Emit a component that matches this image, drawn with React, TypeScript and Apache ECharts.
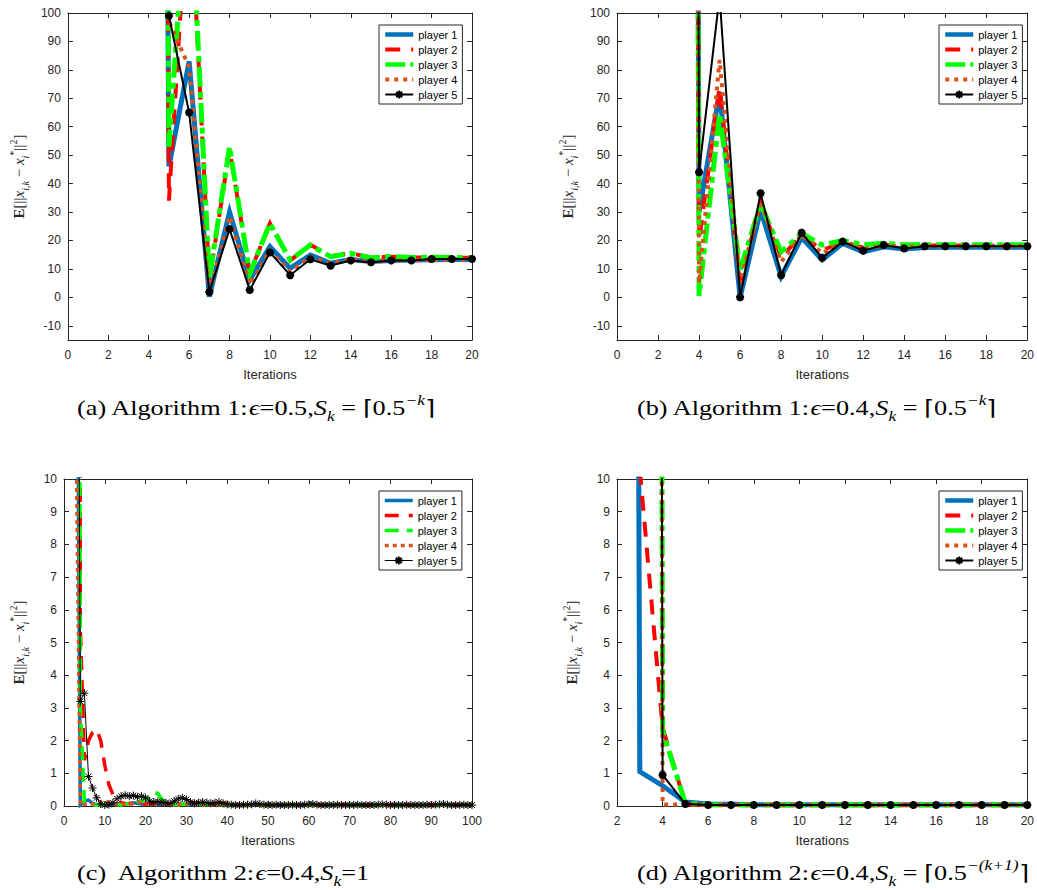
import React, { useEffect, useRef } from "react";
import * as echarts from "echarts";

const PLAYER_NAMES = ["player 1", "player 2", "player 3", "player 4", "player 5"];

// ---------- Panel (a): Algorithm 1, eps=0.5 (iterations 1..20)
const A_P1 = [9200, 6100, 3400, 1100, 46, 83, 0.2, 30, 6.1, 17.8, 10.2, 14.9, 12.0, 13.3, 12.6, 13.0, 13.1, 13.2, 13.3, 13.3];
const A_P2 = [9800, 6900, 3900, 1500, 34, 150, 6, 52, 8.5, 26, 13, 18.5, 14.5, 15.5, 14, 14.3, 14, 14, 14, 13.9];
const A_P3 = [9600, 6700, 3800, 1400, 53, 155, 6.7, 53, 8.4, 26, 13.1, 18.4, 14.3, 15.5, 13.9, 14.4, 14, 14.1, 14, 13.9];
const A_P4 = [9000, 6000, 3300, 1000, 97, 81, 1, 28.5, 4.5, 16.5, 9, 14.2, 12, 13.2, 12.5, 13, 13, 13.2, 13.2, 13.3];
const A_P5 = [9400, 6300, 3500, 1200, 99, 65, 1.9, 24, 2.6, 15.8, 7.8, 13.4, 11.1, 13.0, 12.3, 13.0, 13.0, 13.5, 13.5, 13.5];

// ---------- Panel (b): Algorithm 1, eps=0.4 (iterations 1..20)
const B_P1 = [9000, 5000, 2000, 30, 72, 0, 30.7, 7.3, 21, 13.2, 19, 16, 17.8, 17, 17.5, 17.6, 17.6, 17.6, 17.6, 17.6];
const B_P2 = [9500, 5500, 2200, 20, 74, 5, 33, 14, 22, 16.5, 19.5, 17.5, 18.5, 18, 18.2, 18.2, 18.2, 18.2, 18.2, 18.2];
const B_P3 = [9300, 5300, 2100, 0.5, 64.5, 9.6, 33, 16, 22.5, 18.4, 20, 18.5, 19, 18.5, 18.5, 18.5, 18.5, 18.5, 18.5, 18.5];
const B_P4 = [9100, 5100, 2050, 5, 83.5, 5, 34, 12.5, 22, 15.5, 19.5, 17, 18.3, 17.8, 18, 18, 18, 18, 18, 18];
const B_P5 = [9700, 5700, 2300, 44, 106, 0, 36.6, 7.8, 22.7, 13.9, 19.6, 16.4, 18.4, 17.2, 18, 18, 18, 18, 18, 18];

// ---------- Panel (c): Algorithm 2, eps=0.4, S_k=1 (iterations 1..100)
const C_P1 = [
  900, 200, 20, 0.03, 0.15, 0.18, 0.08, 0.04, 0.03, 0.03,
  0.04, 0.05, 0.06, 0.05, 0.06, 0.08, 0.1, 0.08, 0.06, 0.05,
  0.04, 0.05, 0.06, 0.05, 0.04, 0.04, 0.05, 0.06, 0.05, 0.04,
  0.04, 0.04, 0.05, 0.05, 0.04, 0.04, 0.04, 0.05, 0.04, 0.04,
  0.03, 0.03, 0.04, 0.03, 0.03, 0.03, 0.04, 0.04, 0.03, 0.03,
  0.03, 0.03, 0.03, 0.04, 0.03, 0.03, 0.03, 0.03, 0.04, 0.04,
  0.05, 0.04, 0.03, 0.03, 0.03, 0.03, 0.03, 0.04, 0.03, 0.03,
  0.03, 0.03, 0.03, 0.03, 0.04, 0.03, 0.03, 0.03, 0.03, 0.03,
  0.03, 0.03, 0.04, 0.03, 0.03, 0.03, 0.03, 0.03, 0.03, 0.04,
  0.03, 0.03, 0.03, 0.03, 0.03, 0.03, 0.04, 0.03, 0.03, 0.03,
];
const C_P2 = [
  900, 300, 150, 5.5, 1.4, 2.0, 2.25, 2.35, 2.0, 1.25,
  0.65, 0.35, 0.18, 0.1, 0.08, 0.07, 0.06, 0.05, 0.04, 0.05,
  0.06, 0.08, 0.1, 0.09, 0.07, 0.05, 0.04, 0.05, 0.07, 0.1,
  0.12, 0.1, 0.07, 0.05, 0.04, 0.05, 0.06, 0.08, 0.09, 0.07,
  0.05, 0.04, 0.04, 0.03, 0.03, 0.04, 0.04, 0.03, 0.03, 0.03,
  0.04, 0.04, 0.03, 0.03, 0.03, 0.03, 0.04, 0.03, 0.03, 0.03,
  0.03, 0.04, 0.04, 0.03, 0.03, 0.03, 0.03, 0.03, 0.04, 0.03,
  0.03, 0.03, 0.03, 0.04, 0.03, 0.03, 0.03, 0.03, 0.03, 0.03,
  0.04, 0.03, 0.03, 0.03, 0.03, 0.03, 0.04, 0.03, 0.03, 0.03,
  0.03, 0.03, 0.03, 0.04, 0.03, 0.03, 0.03, 0.03, 0.03, 0.03,
];
const C_P3 = [
  900, 300, 80, 3.0, 0.1, 0.05, 0.03, 0.02, 0.03, 0.05,
  0.08, 0.06, 0.04, 0.03, 0.05, 0.08, 0.1, 0.12, 0.15, 0.2,
  0.3, 0.42, 0.38, 0.2, 0.1, 0.06, 0.04, 0.04, 0.05, 0.06,
  0.08, 0.07, 0.05, 0.04, 0.04, 0.05, 0.05, 0.04, 0.04, 0.03,
  0.03, 0.04, 0.03, 0.03, 0.03, 0.04, 0.03, 0.03, 0.03, 0.03,
  0.03, 0.03, 0.04, 0.03, 0.03, 0.03, 0.03, 0.04, 0.03, 0.03,
  0.03, 0.03, 0.03, 0.04, 0.03, 0.03, 0.03, 0.03, 0.03, 0.04,
  0.03, 0.03, 0.03, 0.03, 0.03, 0.04, 0.03, 0.03, 0.03, 0.03,
  0.03, 0.04, 0.03, 0.03, 0.03, 0.03, 0.03, 0.04, 0.03, 0.03,
  0.03, 0.03, 0.04, 0.03, 0.03, 0.03, 0.03, 0.03, 0.04, 0.03,
];
const C_P4 = [
  900, 200, 11, 0.02, 0.05, 0.08, 0.06, 0.08, 0.12, 0.15,
  0.12, 0.08, 0.05, 0.04, 0.06, 0.08, 0.1, 0.12, 0.1, 0.08,
  0.06, 0.05, 0.04, 0.05, 0.06, 0.05, 0.04, 0.04, 0.05, 0.05,
  0.04, 0.04, 0.05, 0.04, 0.04, 0.03, 0.03, 0.04, 0.03, 0.03,
  0.03, 0.03, 0.03, 0.04, 0.03, 0.03, 0.03, 0.03, 0.04, 0.03,
  0.03, 0.04, 0.03, 0.03, 0.03, 0.03, 0.03, 0.04, 0.03, 0.03,
  0.03, 0.03, 0.04, 0.03, 0.03, 0.03, 0.03, 0.03, 0.03, 0.04,
  0.03, 0.03, 0.03, 0.03, 0.04, 0.03, 0.03, 0.03, 0.03, 0.03,
  0.04, 0.03, 0.03, 0.03, 0.03, 0.04, 0.03, 0.03, 0.03, 0.03,
  0.03, 0.03, 0.03, 0.03, 0.04, 0.03, 0.03, 0.03, 0.03, 0.03,
];
const C_P5 = [
  900, 200, 30, 3.2, 3.45, 0.9, 0.55, 0.25, 0.06, 0.03,
  0.04, 0.1, 0.22, 0.3, 0.33, 0.3, 0.32, 0.28, 0.3, 0.25,
  0.15, 0.12, 0.14, 0.12, 0.1, 0.08, 0.15, 0.22, 0.25, 0.2,
  0.12, 0.08, 0.1, 0.12, 0.1, 0.08, 0.1, 0.12, 0.08, 0.05,
  0.04, 0.03, 0.03, 0.04, 0.04, 0.05, 0.08, 0.06, 0.04, 0.03,
  0.03, 0.04, 0.03, 0.03, 0.03, 0.04, 0.03, 0.03, 0.04, 0.05,
  0.06, 0.04, 0.03, 0.03, 0.03, 0.03, 0.04, 0.03, 0.03, 0.03,
  0.03, 0.04, 0.03, 0.03, 0.03, 0.03, 0.04, 0.05, 0.04, 0.03,
  0.03, 0.03, 0.03, 0.04, 0.03, 0.03, 0.03, 0.03, 0.04, 0.03,
  0.04, 0.05, 0.06, 0.04, 0.03, 0.03, 0.03, 0.04, 0.03, 0.03,
];

// ---------- Panel (d): Algorithm 2, eps=0.4, S_k = ceil(0.5^-(k+1)) (iterations 1..20)
const D_P1 = [900, 200, 1.05, 0.62, 0.12, 0.06, 0.05, 0.04, 0.04, 0.04, 0.04, 0.04, 0.04, 0.04, 0.04, 0.04, 0.04, 0.04, 0.04, 0.04];
const D_P2 = [900, 300, 10.3, 2.4, 0.05, 0.03, 0.03, 0.03, 0.03, 0.03, 0.03, 0.03, 0.03, 0.03, 0.03, 0.03, 0.03, 0.03, 0.03, 0.03];
const D_P3 = [900, 500, 300, 2.3, 0.08, 0.04, 0.03, 0.03, 0.03, 0.03, 0.03, 0.03, 0.03, 0.03, 0.03, 0.03, 0.03, 0.03, 0.03, 0.03];
const D_P4 = [900, 500, 300, 0.05, 0.04, 0.03, 0.03, 0.03, 0.03, 0.03, 0.03, 0.03, 0.03, 0.03, 0.03, 0.03, 0.03, 0.03, 0.03, 0.03];
const D_P5 = [900, 500, 300, 0.95, 0.06, 0.03, 0.03, 0.03, 0.03, 0.03, 0.03, 0.03, 0.03, 0.03, 0.03, 0.03, 0.03, 0.03, 0.03, 0.03];

// tick values
const Y_TICKS_AB = [-10, 0, 10, 20, 30, 40, 50, 60, 70, 80, 90, 100];
const Y_TICKS_CD = [0, 1, 2, 3, 4, 5, 6, 7, 8, 9, 10];

const ASTERISK = "path://M5 0L5 10M0 5L10 5M1.46 1.46L8.54 8.54M1.46 8.54L8.54 1.46";
const AXIS_COLOR = "#262626";
const SANS = "Liberation Sans, Arial, sans-serif";
const SERIF = "Liberation Serif, Times New Roman, serif";

type LStyle = { color: string; width: number; type: any };

const STYLES_ABD: LStyle[] = [
  { color: "#0072BD", width: 5, type: "solid" },
  { color: "#FF0000", width: 4, type: [15, 11] },
  { color: "#00FF00", width: 5, type: [20, 5, 6, 5] },
  { color: "#D95319", width: 4, type: [4, 5] },
  { color: "#000000", width: 2, type: "solid" },
];
const STYLES_C: LStyle[] = [
  { color: "#0072BD", width: 3.5, type: "solid" },
  { color: "#FF0000", width: 3.5, type: [14, 10] },
  { color: "#00FF00", width: 3.5, type: [14, 8] },
  { color: "#D95319", width: 3.5, type: [4, 4] },
  { color: "#000000", width: 1, type: "solid" },
];

const Y_NAME = "{b|E}{n|[||}{i|x}{s|i,k}{n| − }{i|x}{s|i}{p|*}{n|||}{p|2}{n|]}";

function makeSeries(values: number[][], styles: LStyle[], markerBorder: number, markerSize: number) {
  return values.map((vals, idx) => {
    const st = styles[idx];
    const isMarker = idx === 4;
    return {
      type: "line",
      name: PLAYER_NAMES[idx],
      data: vals.map((v, i) => [i + 1, v]),
      xAxisIndex: 0,
      yAxisIndex: 0,
      clip: true,
      symbol: isMarker ? ASTERISK : "none",
      symbolSize: markerSize,
      showSymbol: isMarker,
      itemStyle: { color: st.color, borderColor: st.color, borderWidth: markerBorder },
      lineStyle: { color: st.color, width: st.width, type: st.type, cap: "butt", join: "miter" },
      emphasis: { disabled: true },
      z: 2 + idx,
    };
  });
}

function makeLegendData(styles: LStyle[]) {
  return PLAYER_NAMES.map((name, idx) => {
    const st = styles[idx];
    const ls = { width: Math.min(st.width, 4.5), type: st.type, color: st.color, cap: "butt" };
    return idx === 4 ? { name, lineStyle: ls } : { name, itemStyle: { opacity: 0 }, lineStyle: ls };
  });
}

function makeOption(p: any) {
  const lineStyle = { color: AXIS_COLOR, width: 1 };
  const tickStyle = { color: AXIS_COLOR, width: 1 };
  const xBase = { type: "value", min: p.xMin, max: p.xMax, interval: p.xInt, splitLine: { show: false } };
  const yBase = { type: "value", min: p.yMin, max: p.yMax, interval: p.yInt, splitLine: { show: false } };
  return {
    animation: false,
    grid: { left: p.gl, top: p.gt, width: 415, height: 327, containLabel: false },
    xAxis: [
      {
        ...xBase,
        position: "bottom",
        name: "Iterations",
        nameLocation: "middle",
        nameGap: 28,
        nameTextStyle: { fontFamily: SANS, fontSize: 13, color: AXIS_COLOR },
        axisLine: { show: true, onZero: false, lineStyle },
        axisTick: { show: true, inside: true, length: 5, lineStyle: tickStyle },
        axisLabel: { show: true, color: AXIS_COLOR, fontFamily: SANS, fontSize: 12, margin: 9 },
      },
      {
        ...xBase,
        position: "top",
        axisLine: { show: true, onZero: false, lineStyle },
        axisTick: { show: true, inside: true, length: 5, lineStyle: tickStyle },
        axisLabel: { show: false },
      },
    ],
    yAxis: [
      {
        ...yBase,
        position: "left",
        name: Y_NAME,
        nameLocation: "middle",
        nameGap: 34,
        nameTextStyle: {
          fontFamily: SERIF,
          fontSize: 15,
          color: AXIS_COLOR,
          rich: {
            b: { fontFamily: SERIF, fontSize: 15, fontWeight: "bold", color: AXIS_COLOR, lineHeight: 22 },
            n: { fontFamily: SERIF, fontSize: 15, color: AXIS_COLOR, lineHeight: 22 },
            i: { fontFamily: SERIF, fontSize: 15, fontStyle: "italic", color: AXIS_COLOR, lineHeight: 22 },
            s: { fontFamily: SERIF, fontSize: 10, fontStyle: "italic", color: AXIS_COLOR, verticalAlign: "bottom" },
            p: { fontFamily: SERIF, fontSize: 10, color: AXIS_COLOR, verticalAlign: "top" },
          },
        },
        axisLine: { show: true, onZero: false, lineStyle },
        axisTick: { show: true, inside: true, length: 5, lineStyle: tickStyle, customValues: p.yTicks },
        axisLabel: { show: true, color: AXIS_COLOR, fontFamily: SANS, fontSize: 12, margin: 7, customValues: p.yTicks },
      },
      {
        ...yBase,
        position: "right",
        axisLine: { show: true, onZero: false, lineStyle },
        axisTick: { show: true, inside: true, length: 5, lineStyle: tickStyle, customValues: p.yTicks },
        axisLabel: { show: false, customValues: p.yTicks },
      },
    ],
    legend: {
      data: makeLegendData(p.styles),
      left: p.lx,
      top: p.ly,
      orient: "vertical",
      itemWidth: 28,
      itemHeight: 10,
      itemGap: 4,
      padding: [4, 5, 4, 4],
      borderColor: AXIS_COLOR,
      borderWidth: 1,
      backgroundColor: "#ffffff",
      selectedMode: false,
      textStyle: { fontFamily: SANS, fontSize: 11, color: "#000" },
    },
    series: makeSeries(p.values, p.styles, p.markerBorder, p.markerSize),
    graphic: [
      {
        type: "text",
        x: p.cx,
        y: p.cy,
        scaleX: 1.25,
        style: {
          text: p.caption,
          x: 0,
          y: 0,
          fill: "#000",
          fontFamily: SERIF,
          fontSize: 21,
          align: "left",
          verticalAlign: "top",
          textAlign: "left",
          textVerticalAlign: "top",
          rich: {
            n: { fontFamily: SERIF, fontSize: 21, fill: "#000", color: "#000", lineHeight: 30 },
            i: { fontFamily: SERIF, fontSize: 21, fontStyle: "italic", fill: "#000", color: "#000", lineHeight: 30 },
            sub: { fontFamily: SERIF, fontSize: 14, fontStyle: "italic", fill: "#000", color: "#000", verticalAlign: "bottom" },
            sup: { fontFamily: SERIF, fontSize: 14, fontStyle: "italic", fill: "#000", color: "#000", verticalAlign: "top" },
          },
        },
      },
    ],
  };
}

const OPT_A = makeOption({
  gl: 57, gt: 13, xMin: 0, xMax: 20, xInt: 2, yMin: -15, yMax: 100, yInt: 5, yTicks: Y_TICKS_AB,
  lx: 379, ly: 25, values: [A_P1, A_P2, A_P3, A_P4, A_P5], styles: STYLES_ABD, markerBorder: 2.5, markerSize: 8,
  cx: 77, cy: 393,
  caption: "{n|(a) Algorithm 1:}{i|ϵ}{n|=0.5,}{i|S}{sub|k}{n| = ⌈0.5}{sup|−k}{n|⌉}",
});
const OPT_B = makeOption({
  gl: 97, gt: 13, xMin: 0, xMax: 20, xInt: 2, yMin: -15, yMax: 100, yInt: 5, yTicks: Y_TICKS_AB,
  lx: 419, ly: 25, values: [B_P1, B_P2, B_P3, B_P4, B_P5], styles: STYLES_ABD, markerBorder: 2.5, markerSize: 8,
  cx: 117, cy: 393,
  caption: "{n|(b) Algorithm 1:}{i|ϵ}{n|=0.4,}{i|S}{sub|k}{n| = ⌈0.5}{sup|−k}{n|⌉}",
});
const OPT_C = makeOption({
  gl: 57, gt: 34, xMin: 0, xMax: 100, xInt: 10, yMin: 0, yMax: 10, yInt: 1, yTicks: Y_TICKS_CD,
  lx: 379, ly: 46, values: [C_P1, C_P2, C_P3, C_P4, C_P5], styles: STYLES_C, markerBorder: 1, markerSize: 8,
  cx: 77, cy: 413,
  caption: "{n|(c)  Algorithm 2:}{i|ϵ}{n|=0.4,}{i|S}{sub|k}{n|=1}",
});
const OPT_D = makeOption({
  gl: 97, gt: 34, xMin: 2, xMax: 20, xInt: 2, yMin: 0, yMax: 10, yInt: 1, yTicks: Y_TICKS_CD,
  lx: 419, ly: 46, values: [D_P1, D_P2, D_P3, D_P4, D_P5], styles: STYLES_ABD, markerBorder: 2.5, markerSize: 8,
  cx: 117, cy: 413,
  caption: "{n|(d) Algorithm 2:}{i|ϵ}{n|=0.4,}{i|S}{sub|k}{n| = ⌈0.5}{sup|−(k+1)}{n|⌉}",
});

function Panel(props: { left: number; top: number; width: number; height: number; option: any }) {
  const ref = useRef<HTMLDivElement>(null);
  useEffect(() => {
    if (!ref.current) return;
    const chart = echarts.init(ref.current, null, { renderer: "svg" });
    chart.setOption(props.option);
    return () => chart.dispose();
  }, []);
  return (
    <div
      ref={ref}
      style={{ position: "absolute", left: props.left, top: props.top, width: props.width, height: props.height }}
    />
  );
}

export default function App() {
  return (
    <div style={{ position: "absolute", left: 0, top: 0, width: 1037, height: 890, background: "#ffffff" }}>
      <Panel left={0} top={0} width={520} height={445} option={OPT_A} />
      <Panel left={520} top={0} width={517} height={445} option={OPT_B} />
      <Panel left={0} top={445} width={520} height={445} option={OPT_C} />
      <Panel left={520} top={445} width={517} height={445} option={OPT_D} />
    </div>
  );
}
